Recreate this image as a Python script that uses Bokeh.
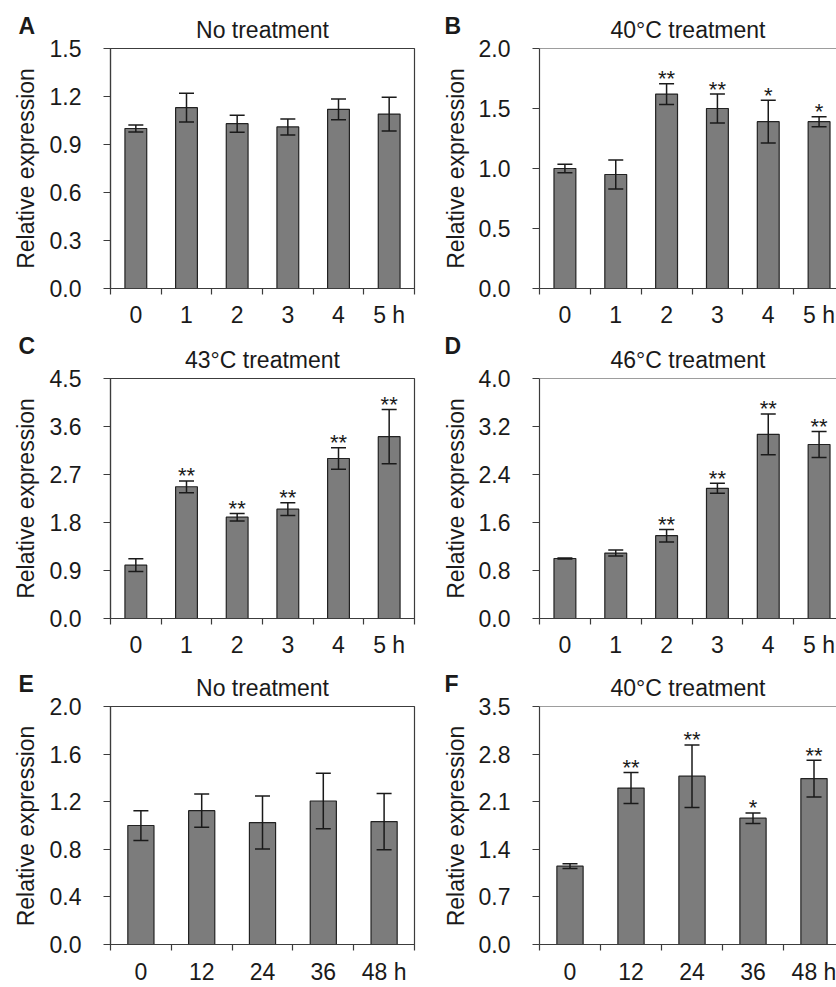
import math
from bokeh.plotting import figure
from bokeh.layouts import column, row
from bokeh.models import (Range1d, FixedTicker, ColumnDataSource, Whisker, TeeHead,
                          Span, NumeralTickFormatter)
from bokeh.core.properties import value
from bokeh.embed import file_html
from bokeh.resources import INLINE

FONT = "Liberation Sans"
TXT = "#1a1a1a"
AX = "#3c3c3c"
BAR = "#7c7c7c"

# ---------------- data ----------------
hours_short = ["0", "1", "2", "3", "4", "5 h"]
hours_long = ["0", "12", "24", "36", "48 h"]
y_label = "Relative expression"

a_title = "No treatment"
a_mean = [1.00, 1.13, 1.03, 1.01, 1.12, 1.09]
a_err = [0.022, 0.09, 0.053, 0.05, 0.065, 0.105]
a_sig = ["", "", "", "", "", ""]
a_yticks = [0.0, 0.3, 0.6, 0.9, 1.2, 1.5]

b_title = "40°C treatment"
b_mean = [1.00, 0.95, 1.62, 1.50, 1.39, 1.39]
b_err = [0.035, 0.12, 0.087, 0.12, 0.178, 0.042]
b_sig = ["", "", "**", "**", "*", "*"]
b_yticks = [0.0, 0.5, 1.0, 1.5, 2.0]

c_title = "43°C treatment"
c_mean = [1.00, 2.47, 1.90, 2.05, 3.00, 3.41]
c_err = [0.12, 0.11, 0.07, 0.12, 0.20, 0.51]
c_sig = ["", "**", "**", "**", "**", "**"]
c_yticks = [0.0, 0.9, 1.8, 2.7, 3.6, 4.5]

d_title = "46°C treatment"
d_mean = [1.00, 1.09, 1.38, 2.17, 3.07, 2.90]
d_err = [0.01, 0.05, 0.105, 0.083, 0.34, 0.217]
d_sig = ["", "", "**", "**", "**", "**"]
d_yticks = [0.0, 0.8, 1.6, 2.4, 3.2, 4.0]

e_title = "No treatment"
e_mean = [1.00, 1.125, 1.025, 1.206, 1.033]
e_err = [0.125, 0.139, 0.222, 0.233, 0.236]
e_sig = ["", "", "", "", ""]
e_yticks = [0.0, 0.4, 0.8, 1.2, 1.6, 2.0]

f_title = "40°C treatment"
f_mean = [1.152, 2.30, 2.475, 1.857, 2.44]
f_err = [0.034, 0.228, 0.46, 0.078, 0.27]
f_sig = ["", "**", "**", "*", "**"]
f_yticks = [0.0, 0.7, 1.4, 2.1, 2.8, 3.5]

SIDE_L, SIDE_R = 41, 46          # side columns holding letter + y label
PANEL_L, PANEL_R = 383, 366      # panel figures


def make_side(letter, right, height, letter_base, label_center):
    width = SIDE_R if right else SIDE_L
    s = figure(width=width, height=height, x_range=Range1d(0, width),
               y_range=Range1d(0, height), output_backend="svg",
               toolbar_location=None, x_axis_location=None, y_axis_location=None,
               min_border=0, min_border_left=0, min_border_right=0,
               min_border_top=0, min_border_bottom=0, title=None,
               frame_align=False)
    s.xgrid.visible = False
    s.ygrid.visible = False
    s.outline_line_color = None
    s.background_fill_color = "white"
    s.border_fill_color = "white"
    lx = 20 if right else 18
    s.text(x=[lx], y=[height - (letter_base - 8)], text=[letter],
           text_font=value(FONT), text_font_size="23px", text_font_style="bold",
           text_color=TXT, text_align="left", text_baseline="middle")
    gx = 31 if right else 25.5
    s.text(x=[gx], y=[height - label_center], text=[y_label], angle=math.pi / 2,
           text_font=value(FONT), text_font_size="23px", text_font_style="normal",
           text_color=TXT, text_align="center", text_baseline="middle")
    return s


def make_panel(title, cats, mean, err, sig, yticks, right, height, top_b, bot_b, xstand):
    n = len(cats)
    if right:
        width, mbl, mbr = PANEL_R, 69, 0
        full_w, vis_w = 305, 297
    else:
        width, mbl, mbr = PANEL_L, 69, 10
        full_w, vis_w = 304, 304
    x_end = n * vis_w / full_w
    ymax = yticks[-1]
    p = figure(width=width, height=height, x_range=Range1d(0, x_end),
               y_range=Range1d(0, ymax), output_backend="svg",
               toolbar_location=None, min_border_left=mbl, min_border_right=mbr,
               min_border_top=top_b, min_border_bottom=bot_b, frame_align=False)
    p.xgrid.visible = False
    p.ygrid.visible = False
    p.background_fill_color = "white"
    p.border_fill_color = "white"
    if right:
        p.outline_line_color = None
        p.add_layout(Span(location=ymax, dimension="width",
                          line_color=AX, line_width=1.2))
    else:
        p.outline_line_color = AX
        p.outline_line_width = 1.2

    xs = [i + 0.5 for i in range(n)]
    src = ColumnDataSource(dict(x=xs, top=mean,
                                upper=[m + e for m, e in zip(mean, err)],
                                lower=[m - e for m, e in zip(mean, err)],
                                sig=sig))
    p.vbar(x="x", top="top", bottom=0, width=0.43, source=src,
           fill_color=BAR, line_color="#222222", line_width=1.2)
    w = Whisker(source=src, base="x", upper="upper", lower="lower",
                line_color="#1a1a1a", line_width=1.5, level="overlay",
                upper_head=TeeHead(size=15, line_color="#1a1a1a", line_width=1.5),
                lower_head=TeeHead(size=15, line_color="#1a1a1a", line_width=1.5))
    p.add_layout(w)
    p.text(x="x", y="upper", text="sig", source=src, text_align="center",
           text_baseline="alphabetic", y_offset=-5, text_font=value(FONT),
           text_font_size="22px", text_color=TXT)

    xa = p.xaxis[0]
    xa.ticker = FixedTicker(ticks=xs, minor_ticks=list(range(n + 1)))
    xa.major_label_overrides = {x: c for x, c in zip(xs, cats)}
    xa.major_tick_out = 0
    xa.major_tick_in = 0
    xa.minor_tick_out = 6
    xa.minor_tick_in = 0
    xa.minor_tick_line_color = AX
    xa.minor_tick_line_width = 1.2
    xa.axis_line_color = AX
    xa.axis_line_width = 1.2
    xa.major_label_text_font = FONT
    xa.major_label_text_font_size = "23px"
    xa.major_label_text_color = TXT
    xa.major_label_standoff = xstand

    ya = p.yaxis[0]
    ya.ticker = FixedTicker(ticks=yticks, minor_ticks=[])
    ya.formatter = NumeralTickFormatter(format="0.0")
    ya.major_tick_out = 7
    ya.major_tick_in = 0
    ya.minor_tick_out = 0
    ya.minor_tick_in = 0
    ya.major_tick_line_color = AX
    ya.major_tick_line_width = 1.2
    ya.axis_line_color = AX
    ya.axis_line_width = 1.2
    ya.major_label_text_font = FONT
    ya.major_label_text_font_size = "23px"
    ya.major_label_text_color = TXT
    ya.major_label_standoff = 22

    p.title.text = title
    p.title.align = "center"
    p.title.text_font = FONT
    p.title.text_font_size = "23px"
    p.title.text_font_style = "normal"
    p.title.text_color = TXT
    p.title.standoff = 11
    return p


# row 1: height 334, frame 48..288
H1, H2, H3 = 334, 330, 323
sa = make_side("A", False, H1, 33, 168)
pa = make_panel(a_title, hours_short, a_mean, a_err, a_sig, a_yticks, False, H1, 48, 46, 7)
sb = make_side("B", True, H1, 33, 168)
pb = make_panel(b_title, hours_short, b_mean, b_err, b_sig, b_yticks, True, H1, 48, 46, 7)
# row 2: height 330, frame 378..618
sc = make_side("C", False, H2, 19, 164)
pc = make_panel(c_title, hours_short, c_mean, c_err, c_sig, c_yticks, False, H2, 44, 46, 7)
sd = make_side("D", True, H2, 19, 164)
pd = make_panel(d_title, hours_short, d_mean, d_err, d_sig, d_yticks, True, H2, 44, 46, 7)
# row 3: height 323, frame 706..945
se = make_side("E", False, H3, 27, 161.5)
pe = make_panel(e_title, hours_long, e_mean, e_err, e_sig, e_yticks, False, H3, 42, 42, 8)
sf = make_side("F", True, H3, 27, 161.5)
pf = make_panel(f_title, hours_long, f_mean, f_err, f_sig, f_yticks, True, H3, 42, 42, 8)

layout = column(row(sa, pa, sb, pb), row(sc, pc, sd, pd), row(se, pe, sf, pf))

open("out.html", "w").write(file_html(layout, INLINE))
